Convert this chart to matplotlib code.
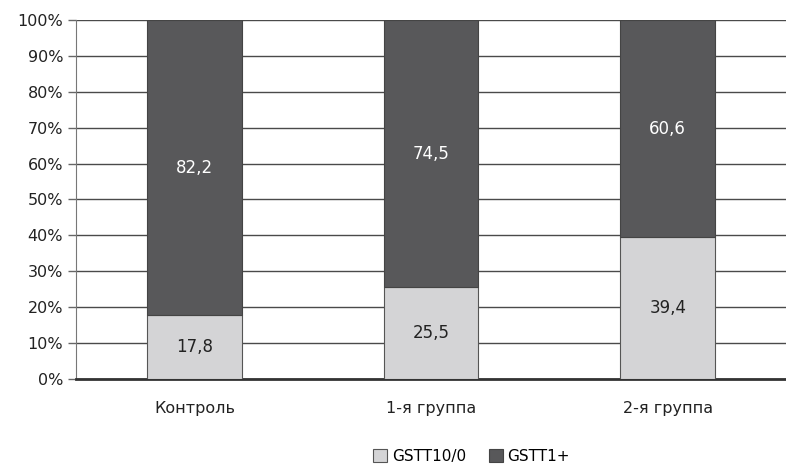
import numpy as np
import matplotlib.pyplot as plt

groups = ['Контроль', '1-я группа', '2-я группа']
gstt_null = [17.8, 25.5, 39.4]
gstt_plus = [82.2, 74.5, 60.6]
labels_null = ['17,8', '25,5', '39,4']
labels_plus = ['82,2', '74,5', '60,6']

plt.rcParams['font.family'] = ['DejaVu Sans']
fig = plt.figure(figsize=(7.86, 4.66), dpi=100)
ax = fig.add_axes([0.097, 0.187, 0.903, 0.77])

x = np.arange(len(groups))
w = 0.4
b1 = ax.bar(x, gstt_null, w, color='#d4d4d6', edgecolor='#555555', linewidth=0.8,
            label='GSTT10/0', zorder=3)
b2 = ax.bar(x, gstt_plus, w, bottom=gstt_null, color='#58585a', edgecolor='#444444',
            linewidth=0.8, label='GSTT1+', zorder=3)

for i in range(len(groups)):
    ax.text(x[i], gstt_null[i] / 2, labels_null[i], ha='center', va='center',
            fontsize=12, color='#222222', zorder=4)
    ax.text(x[i], gstt_null[i] + gstt_plus[i] / 2, labels_plus[i], ha='center',
            va='center', fontsize=12, color='white', zorder=4)

ax.set_xlim(-0.5, 2.5)
ax.set_ylim(0, 100)
ax.set_yticks(np.arange(0, 101, 10))
ax.set_yticklabels([f'{v}%' for v in range(0, 101, 10)])
ax.set_xticks(x)
ax.set_xticklabels(groups)
ax.yaxis.grid(True, color='#4a4a4a', linewidth=1.0)
ax.set_axisbelow(True)
ax.tick_params(axis='y', length=6, width=1, color='#666666', labelsize=11.5,
               labelcolor='#222222')
ax.tick_params(axis='x', length=0, pad=16, labelsize=11.5, labelcolor='#222222')
for s in ['top', 'right']:
    ax.spines[s].set_visible(False)
ax.spines['left'].set_color('#777777')
ax.spines['bottom'].set_color('#333333')
ax.spines['bottom'].set_linewidth(2)

fig.legend(handles=[b1, b2], loc='lower center', bbox_to_anchor=(0.6, -0.025), ncol=2,
           frameon=False, fontsize=11, handlelength=0.9, handleheight=0.9,
           handletextpad=0.3, columnspacing=1.5)

plt.savefig('out.png')
